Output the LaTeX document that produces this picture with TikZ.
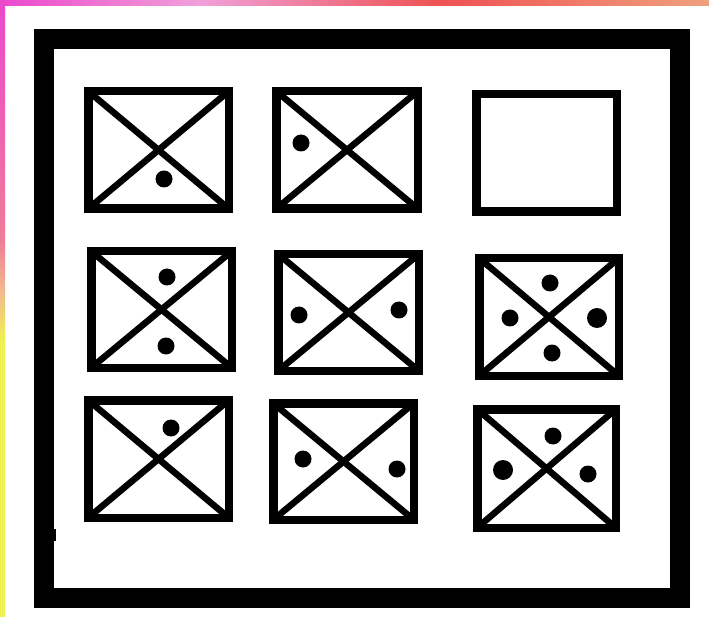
\documentclass[tikz,border=0pt]{standalone}
\usepackage{tikz}

\definecolor{edgeMagenta}{HTML}{EC48CC}
\definecolor{edgePink}{HTML}{F0A0DA}
\definecolor{edgeRose}{HTML}{F07C9A}
\definecolor{edgeRed}{HTML}{EE5252}
\definecolor{edgeSalmon}{HTML}{F0A07E}
\definecolor{edgePeach}{HTML}{F0B890}
\definecolor{edgeYellow}{HTML}{F0F050}

\begin{document}
\begin{tikzpicture}[x=1pt, y=-1pt,
	frame/.style={line width=20pt},
	panel/.style={line width=8.5pt},
	cross/.style={line width=6.5pt},
	spot/.style={fill=black}]
	\useasboundingbox (0,0) rectangle (709,617);
	\fill[white] (0,0) rectangle (709,617);
	% coloured edges of the scan
	\shade[left color=edgeMagenta, right color=edgePink] (0,0) rectangle (200,6);
	\shade[left color=edgePink, right color=edgeRed] (200,0) rectangle (440,6);
	\shade[left color=edgeRed, right color=edgeSalmon] (440,0) rectangle (709,6);
	\shade[top color=edgeMagenta, bottom color=edgeRose] (0,0) rectangle (5,240);
	\shade[top color=edgeRose, bottom color=edgePeach] (0,240) rectangle (5,290);
	\shade[top color=edgePeach, bottom color=edgeYellow] (0,290) rectangle (5,340);
	\fill[edgeYellow] (0,340) rectangle (5,617);
	% outer frame
	\draw[frame] (43.5,39) rectangle (680,598);
	\fill (53,529) rectangle (56,541);
	% crossed panels
	\foreach \xa/\ya/\xb/\yb in {88.25/91.25/228.75/208.75, 276.25/91.25/417.75/208.75,
		91.25/251.25/231.75/367.75, 278.25/254.25/418.75/370.75, 479.25/258.25/618.75/375.75,
		88.25/400.25/228.75/517.75, 273.25/403.25/413.75/519.75, 477.25/409.25/615.75/527.75} {
		\draw[cross] (\xa,\ya) -- (\xb,\yb);
		\draw[cross] (\xa,\yb) -- (\xb,\ya);
		\draw[panel] (\xa,\ya) rectangle (\xb,\yb);
	}
	% empty panel
	\draw[panel] (476.25,94.25) rectangle (616.75,211.75);
	% dots
	\foreach \px/\py in {164/179, 301/143, 167/277, 166/346, 299/315, 399/310,
		550/283, 510/318, 552/353, 171/428, 303/459, 397/469, 553/436, 588/474}
		\fill[spot] (\px,\py) circle (8.5);
	\fill[spot] (597,318) circle (10);
	\fill[spot] (503,470) circle (10);
\end{tikzpicture}
\end{document}
